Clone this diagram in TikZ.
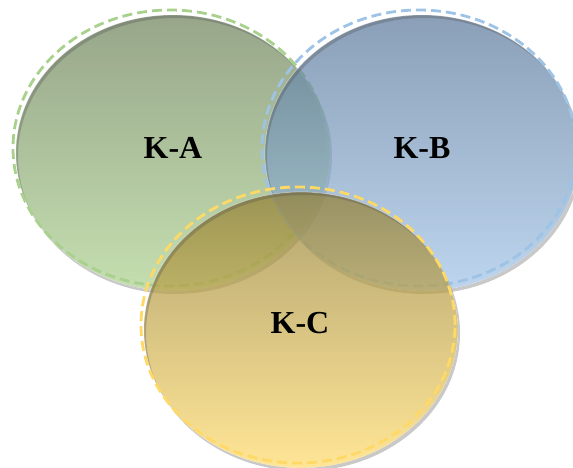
\documentclass[tikz,border=0pt]{standalone}
\usepackage{fontspec}
\setmainfont{Liberation Serif}
\usetikzlibrary{shapes.geometric}
\definecolor{topA}{HTML}{6B8058}
\definecolor{botA}{HTML}{ACD18E}
\definecolor{dashA}{HTML}{A9D18E}
\definecolor{topB}{HTML}{597799}
\definecolor{botB}{HTML}{A1C3E7}
\definecolor{dashB}{HTML}{9DC3E6}
\definecolor{topC}{HTML}{917D32}
\definecolor{botC}{HTML}{FFDA69}
\definecolor{dashC}{HTML}{FFD966}
\tikzset{
    venn/.style={
            ellipse, minimum width=314pt, minimum height=276pt, inner sep=0pt,
            fill opacity=0.7, draw=white, draw opacity=0.5, line width=0.8pt
        },
    venn shadow/.style={fill=black!70, fill opacity=0.3, even odd rule},
    venn dash/.style={
            ellipse, minimum width=314pt, minimum height=276pt, inner sep=0pt,
            line width=2.8pt, dash pattern=on 10pt off 5pt
        },
    venn label/.style={font=\bfseries\fontsize{32}{38}\selectfont},
}

\begin{document}
\begin{tikzpicture}[x=1pt, y=-1pt]
        \useasboundingbox (0, 0) rectangle (573, 468);
        \clip (0, 0) rectangle (573, 468);
        %draw ellipse A
        \node[venn, top color=topA, bottom color=botA] (ka) at (173, 153) {};
        \fill[venn shadow] ([shift={(2, 3)}]ka.center) ellipse [x radius=157pt, y radius=138pt]
            (ka.center) ellipse [x radius=157pt, y radius=138pt];
        \node[venn dash, draw=dashA] (da) at ([shift={(-3, -5)}]ka.center) {};
        %draw ellipse B
        \node[venn, top color=topB, bottom color=botB] (kb) at (422, 153) {};
        \fill[venn shadow] ([shift={(2, 3)}]kb.center) ellipse [x radius=157pt, y radius=138pt]
            (kb.center) ellipse [x radius=157pt, y radius=138pt];
        \node[venn dash, draw=dashB] (db) at ([shift={(-3, -5)}]kb.center) {};
        %draw ellipse C
        \node[venn, top color=topC, bottom color=botC] (kc) at (301, 330) {};
        \fill[venn shadow] ([shift={(2, 3)}]kc.center) ellipse [x radius=157pt, y radius=138pt]
            (kc.center) ellipse [x radius=157pt, y radius=138pt];
        \node[venn dash, draw=dashC] (dc) at ([shift={(-3, -5)}]kc.center) {};
        %draw labels
        \node[venn label] (la) at (173, 148) {K-A};
        \node[venn label] (lb) at (422, 148) {K-B};
        \node[venn label] (lc) at (300, 323) {K-C};
    \end{tikzpicture}
\end{document}
